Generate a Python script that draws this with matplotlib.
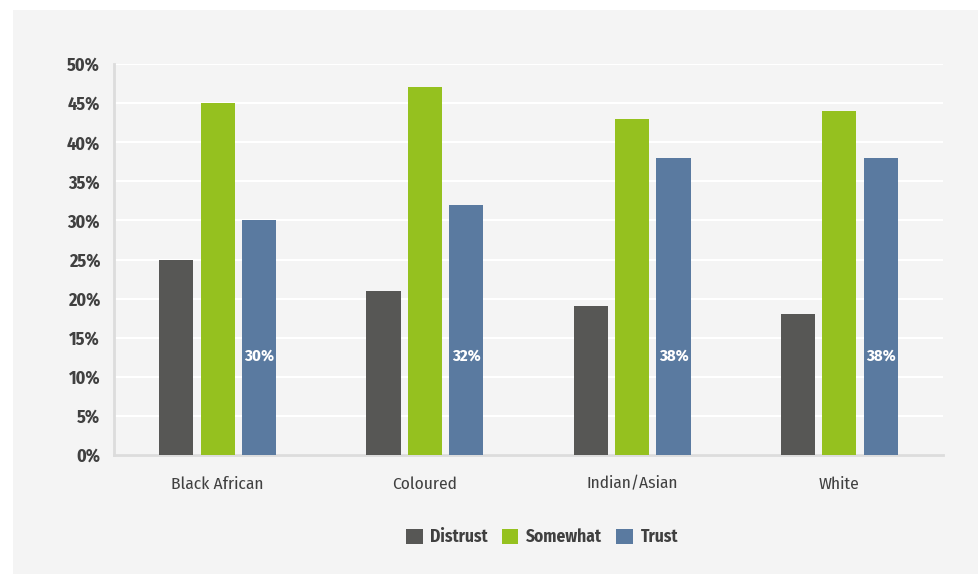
import matplotlib
matplotlib.use("Agg")
import matplotlib.pyplot as plt
from matplotlib.patches import Rectangle
import numpy as np

plt.rcParams["font.family"] = ["Fira Sans Condensed", "DejaVu Sans"]

groups = ["Black African", "Coloured", "Indian/Asian", "White"]
series = ["Distrust", "Somewhat", "Trust"]
distrust = [25, 21, 19, 18]
somewhat = [45, 47, 43, 44]
trust = [30, 32, 38, 38]
colors = ["#575755", "#95c11f", "#5a7aa0"]
yticks = [0, 5, 10, 15, 20, 25, 30, 35, 40, 45, 50]

fig = plt.figure(figsize=(9.79, 5.74), dpi=100)
fig.patch.set_facecolor("white")
fig.patches.append(Rectangle((13 / 979, 0), 1 - 13 / 979, 1 - 10 / 574,
                             transform=fig.transFigure, facecolor="#f4f4f4",
                             edgecolor="none", zorder=-10))

ax = fig.add_axes([114 / 979, 1 - 455 / 574, (943 - 114) / 979, (455 - 64) / 574])
ax.set_facecolor("none")

x = np.arange(len(groups))
width = 0.165
step = 0.2
for i, (vals, name) in enumerate(zip([distrust, somewhat, trust], series)):
    ax.bar(x + (i - 1) * step, vals, width, color=colors[i], label=name,
           edgecolor="none", zorder=3)

# value labels on the trust bars
for xi, v in zip(x, trust):
    ax.text(xi + step, 12.7, f"{v}%", color="white", fontweight="bold",
            fontsize=12, ha="center", va="center", zorder=4)

ax.set_xlim(-0.5, len(groups) - 0.5)
ax.set_ylim(0, 50)
ax.set_yticks(yticks)
ax.set_yticklabels([f"{t}%" for t in yticks], fontweight="bold", fontsize=13,
                   color="#404040")
ax.set_xticks(x)
ax.set_xticklabels(groups, fontsize=12.5, color="#404040")
ax.tick_params(axis="both", length=0)
ax.tick_params(axis="y", pad=10)
ax.tick_params(axis="x", pad=15)
ax.grid(axis="y", color="white", linewidth=1.5, zorder=0)
for side in ["top", "right"]:
    ax.spines[side].set_visible(False)
for side in ["left", "bottom"]:
    ax.spines[side].set_color("#dcdcdc")
    ax.spines[side].set_linewidth(2)

leg = ax.legend(loc="center", bbox_to_anchor=(542 / 979, 1 - 537 / 574),
                bbox_transform=fig.transFigure, ncol=3, frameon=False,
                handlelength=0.95, handleheight=0.95, handletextpad=0.45,
                columnspacing=0.8, prop={"weight": "bold", "size": 12.5})
for t in leg.get_texts():
    t.set_color("#404040")

fig.savefig("out.png", dpi=100, facecolor=fig.get_facecolor())
